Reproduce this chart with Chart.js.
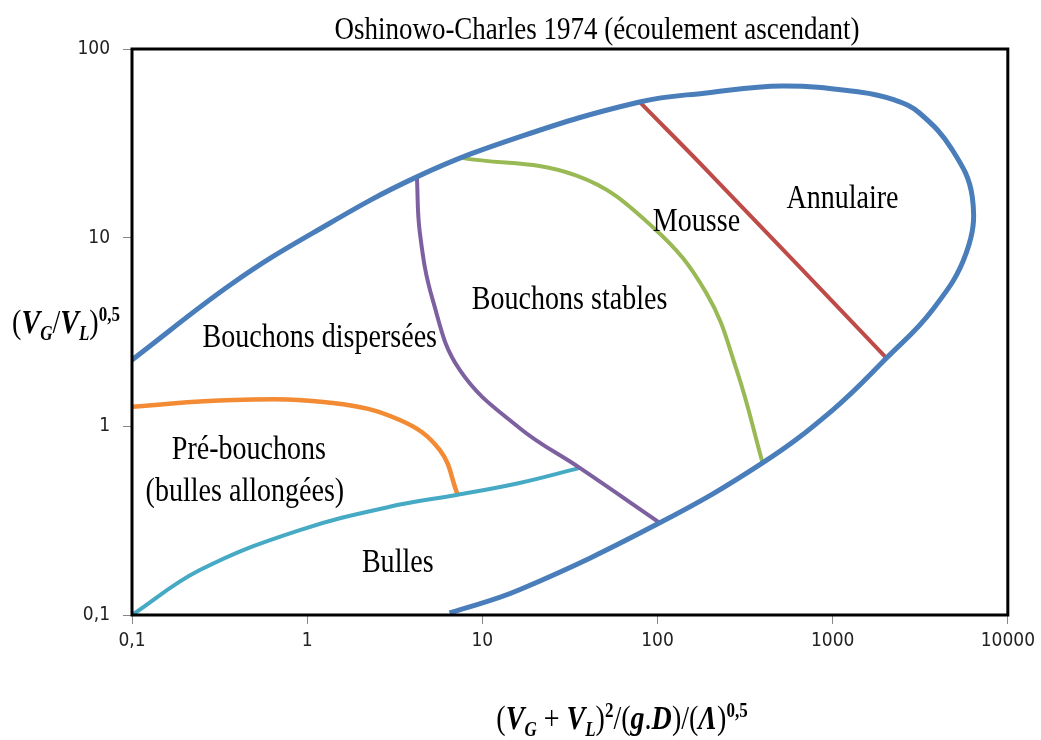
<!DOCTYPE html>
<html>
<head>
<meta charset="utf-8">
<script src="https://cdn.jsdelivr.net/npm/chart.js@4.4.0/dist/chart.umd.min.js"></script>
<style>
body { margin: 0; background: #fff; }
</style>
</head>
<body>
<canvas id="chart" width="1041" height="740"></canvas>
<script>
const xTicks = [0.1, 1, 10, 100, 1000, 10000]
const xTickLabels = ['0,1', '1', '10', '100', '1000', '10000']
const yTicks = [0.1, 1, 10, 100]
const yTickLabels = ['0,1', '1', '10', '100']

// limite extérieure (courbe bleue)
const outerX = [0.1, 0.377, 1.08, 4.23, 16.3, 79, 190, 517, 1420, 2250, 3130, 4820, 6270, 5790, 3710, 2030, 1000, 398, 103, 16.3, 6.5]
const outerY = [2.25, 5.75, 10.6, 21.0, 34.2, 52.4, 58.5, 63.7, 59.2, 53.7, 45.8, 29.2, 16.4, 8.3, 4.14, 2.30, 1.22, 0.64, 0.308, 0.136, 0.1025]

// mousse / annulaire (rouge)
const redX = [79, 198, 2030]
const redY = [52.4, 22.0, 2.30]

// bouchons stables / mousse (vert)
const greenX = [7.73, 34.5, 93.8, 190, 283, 398]
const greenY = [26.4, 21.3, 11.4, 5.09, 1.99, 0.64]

// bouchons dispersées / stables (violet)
const purpleX = [4.23, 4.40, 5.21, 7.43, 16.3, 36.0, 103]
const purpleY = [21.0, 10.6, 4.68, 1.99, 0.98, 0.602, 0.308]

// bulles (cyan)
const cyanX = [0.1, 0.244, 0.908, 3.38, 7.15, 16.3, 36.0]
const cyanY = [0.1, 0.173, 0.282, 0.385, 0.433, 0.501, 0.602]

// pré-bouchons (orange)
const orangeX = [0.1, 0.377, 1.40, 3.38, 5.71, 7.24]
const orangeY = [1.27, 1.38, 1.33, 1.08, 0.75, 0.433]

function toPoints(xs, ys) {
    return xs.map((x, i) => ({x: x, y: ys[i]}))
}

const regionLabels = [
    {text: 'Bouchons dispersées', x: 1.18, y: 2.94},
    {text: 'Bouchons stables', x: 31.5, y: 4.68},
    {text: 'Mousse', x: 167, y: 12.1},
    {text: 'Annulaire', x: 1138, y: 15.9},
    {text: 'Pré-bouchons', x: 0.465, y: 0.75},
    {text: '(bulles allongées)', x: 0.441, y: 0.449},
    {text: 'Bulles', x: 3.29, y: 0.189}
]

const serif = '"Liberation Serif", "Times New Roman", serif'

// texte avec indices / exposants
function drawRich(ctx, parts, x, y, sx) {
    ctx.save()
    ctx.translate(x, y)
    ctx.scale(sx, 1)
    let w = 0
    parts.forEach(p => { ctx.font = p.font; w += ctx.measureText(p.t).width })
    let cx = -w / 2
    ctx.textAlign = 'left'
    ctx.textBaseline = 'alphabetic'
    parts.forEach(p => {
        ctx.font = p.font
        ctx.fillText(p.t, cx, p.dy || 0)
        cx += ctx.measureText(p.t).width
    })
    ctx.restore()
}

const textPlugin = {
    id: 'textPlugin',
    afterDraw(chart) {
        const ctx = chart.ctx
        const a = chart.chartArea
        const xs = chart.scales.x
        const ys = chart.scales.y

        ctx.save()
        ctx.strokeStyle = '#000'
        ctx.lineWidth = 3
        ctx.strokeRect(a.left, a.top, a.right - a.left, a.bottom - a.top)
        ctx.restore()

        ctx.save()
        ctx.fillStyle = '#000'
        drawRich(ctx, [{t: 'Oshinowo-Charles 1974 (écoulement ascendant)', font: '31px ' + serif}], 597, 39, 0.87)

        regionLabels.forEach(l => {
            ctx.save()
            ctx.translate(xs.getPixelForValue(l.x), ys.getPixelForValue(l.y))
            ctx.scale(0.85, 1)
            ctx.font = '33px ' + serif
            ctx.textAlign = 'center'
            ctx.textBaseline = 'middle'
            ctx.fillText(l.text, 0, 0)
            ctx.restore()
        })

        const big = 'bold italic 33px ' + serif
        const up = '33px ' + serif
        const sub = 'bold italic 20px ' + serif
        const sup = 'bold 20px ' + serif
        drawRich(ctx, [
            {t: '(', font: up}, {t: 'V', font: big}, {t: 'G', font: sub, dy: 7},
            {t: '/', font: up}, {t: 'V', font: big}, {t: 'L', font: sub, dy: 7},
            {t: ')', font: up}, {t: '0,5', font: sup, dy: -12}
        ], 66, 333, 0.85)

        drawRich(ctx, [
            {t: '(', font: up}, {t: 'V', font: big}, {t: 'G', font: sub, dy: 7},
            {t: ' + ', font: up}, {t: 'V', font: big}, {t: 'L', font: sub, dy: 7},
            {t: ')', font: up}, {t: '2', font: sup, dy: -12},
            {t: '/(', font: up}, {t: 'g', font: big}, {t: '.', font: up}, {t: 'D', font: big},
            {t: ')/(', font: up}, {t: 'Λ', font: big}, {t: ')', font: up}, {t: '0,5', font: sup, dy: -12}
        ], 622, 729, 0.85)
        ctx.restore()
    }
}

function line(xs, ys, color, width) {
    return {
        data: toPoints(xs, ys),
        borderColor: color,
        borderWidth: width,
        showLine: true,
        pointRadius: 0,
        tension: 0.4,
        fill: false
    }
}

const tickFont = {family: '"Liberation Sans Narrow", "DejaVu Sans Condensed", "Liberation Sans", sans-serif', size: 19}

new Chart(document.getElementById('chart'), {
    type: 'scatter',
    data: {
        datasets: [
            line(outerX, outerY, '#4A7EBB', 5),
            line(redX, redY, '#BE4B48', 4),
            line(greenX, greenY, '#98B954', 4),
            line(purpleX, purpleY, '#7D60A0', 4),
            line(cyanX, cyanY, '#46AAC5', 4),
            line(orangeX, orangeY, '#F38A34', 4.5)
        ]
    },
    options: {
        responsive: false,
        animation: false,
        devicePixelRatio: 1,
        layout: {padding: {left: 0, right: 32, top: 49, bottom: 0}},
        plugins: {
            legend: {display: false},
            tooltip: {enabled: false}
        },
        scales: {
            x: {
                type: 'logarithmic',
                min: 0.1,
                max: 10000,
                afterBuildTicks: s => { s.ticks = xTicks.map(v => ({value: v})) },
                afterFit: s => { s.height = 125 },
                ticks: {
                    callback: (v) => xTickLabels[xTicks.indexOf(v)],
                    font: tickFont,
                    color: '#222',
                    padding: 6,
                    maxRotation: 0
                },
                grid: {drawOnChartArea: false, tickLength: 9, color: '#888'},
                border: {display: false}
            },
            y: {
                type: 'logarithmic',
                min: 0.1,
                max: 100,
                afterBuildTicks: s => { s.ticks = yTicks.map(v => ({value: v})) },
                afterFit: s => { s.width = 132 },
                ticks: {
                    callback: (v) => yTickLabels[yTicks.indexOf(v)],
                    font: tickFont,
                    color: '#222',
                    padding: 13
                },
                grid: {drawOnChartArea: false, tickLength: 9, color: '#888'},
                border: {display: false}
            }
        }
    },
    plugins: [textPlugin]
})
</script>
</body>
</html>
